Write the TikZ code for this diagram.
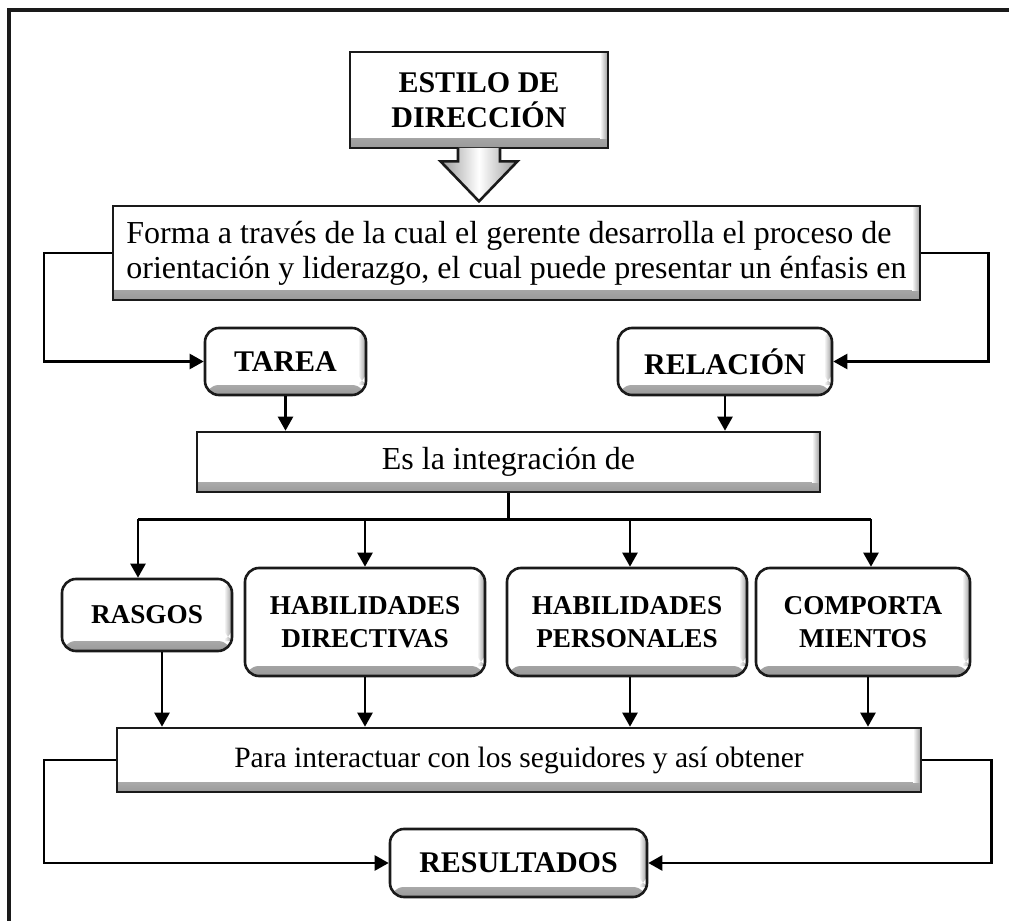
\documentclass[tikz,border=0pt]{standalone}
\usepackage{fontspec}
\setmainfont{Liberation Serif}
\usetikzlibrary{arrows.meta, calc}
\definecolor{boxEdge}{HTML}{1A1A1A}
\definecolor{boxShade}{HTML}{9A9A9A}
\newcommand{\boxfont}{\fontsize{16pt}{17.5pt}\selectfont}
\newcommand{\keyfont}{\fontsize{15pt}{17.5pt}\selectfont\bfseries}
\newcommand{\smallkeyfont}{\fontsize{13.6pt}{16.5pt}\selectfont\bfseries}

\tikzset{
    bevel/.style={draw=boxEdge, line width=1.3pt, fill=white, inner sep=0pt,
        path picture={
            \shade[top color=white, bottom color=boxShade]
                ([yshift=5pt]path picture bounding box.south west) rectangle (path picture bounding box.south east);
            \shade[left color=white, right color=boxShade]
                ([xshift=-4pt]path picture bounding box.north east) rectangle ([yshift=5pt]path picture bounding box.south east);
        }},
    textbox/.style={bevel, font=\boxfont, align=center},
    keybox/.style={bevel, rounded corners=7pt, font=\keyfont, align=center},
    link/.style={draw=black, line width=1.2pt},
    conn/.style={link, -{Triangle[length=7pt,width=7.5pt]}},
}

\begin{document}
\begin{tikzpicture}[x=0.5pt, y=-0.5pt]
    \useasboundingbox (0,0) rectangle (1009,921);
    \draw[boxEdge, line width=1.8pt] (9,921) -- (9,10) -- (1009,10);

    % title with its down arrow
    \node[textbox, font=\keyfont, minimum width=129pt, minimum height=48pt] (estilo) at (479,100) {ESTILO DE\\DIRECCIÓN};
    \shadedraw[draw=boxEdge, line width=1.3pt, left color=boxShade, right color=boxShade, middle color=white]
        ($(estilo.south)+(-10.5pt,0.7pt)$) -- ++(0,-6.7pt) -- ++(-8.75pt,0) -- ($(estilo.south)+(0,-26pt)$)
        -- ($(estilo.south)+(19.25pt,-6pt)$) -- ++(-8.75pt,0) -- ($(estilo.south)+(10.5pt,0.7pt)$);

    \node[textbox, align=left, minimum width=403.5pt, minimum height=47pt] (forma) at (516.5,253)
        {Forma a través de la cual el gerente desarrolla el proceso de\\orientación y liderazgo, el cual puede presentar un énfasis en};

    \node[keybox, minimum width=80.5pt, minimum height=33.5pt] (tarea) at (285.5,361.5) {TAREA};
    \node[keybox, minimum width=107pt, minimum height=33.5pt] (relacion) at (725,361.5) {RELACIÓN};

    \node[textbox, minimum width=311.5pt, minimum height=30pt] (integra) at (508.5,462) {Es la integración de};

    \node[keybox, font=\smallkeyfont, minimum width=85pt, minimum height=36pt] (rasgos) at (147,615) {RASGOS};
    \node[keybox, font=\smallkeyfont, minimum width=120pt, minimum height=54pt] (hdir) at (365,622) {HABILIDADES\\DIRECTIVAS};
    \node[keybox, font=\smallkeyfont, minimum width=120pt, minimum height=54pt] (hper) at (627,622) {HABILIDADES\\PERSONALES};
    \node[keybox, font=\smallkeyfont, minimum width=107pt, minimum height=54pt] (comp) at (863,622) {COMPORTA\\MIENTOS};

    \node[textbox, font=\fontsize{14.75pt}{17.5pt}\selectfont, minimum width=402pt, minimum height=32pt] (para) at (519,760)
        {Para interactuar con los seguidores y así obtener};
    \node[keybox, minimum width=128.5pt, minimum height=34pt] (result) at (518.5,863) {RESULTADOS};

    % task / relation
    \draw[conn] (forma.west) -- ++(-34pt,0) |- (tarea.west);
    \draw[conn] (forma.east) -- ++(33.5pt,0) |- (relacion.east);
    \draw[conn] (tarea.south) -- (tarea.south |- integra.north);
    \draw[conn] (relacion.south) -- (relacion.south |- integra.north);

    % branches
    \coordinate (split) at ($(integra.south)+(0,-13pt)$);
    \draw[link] (integra.south) -- (split);
    \draw[link] ($(split -| rasgos.north)+(-4.5pt,0)$) -- ($(split -| comp.north)+(4pt,0)$);
    \foreach \n/\dx in {rasgos/-4.5pt, hdir/0pt, hper/1.5pt, comp/4pt}
        \draw[conn] ($(split -| \n.north)+(\dx,0)$) -- ($(\n.north)+(\dx,0)$);
    \foreach \n/\dx in {rasgos/7.5pt, hdir/0pt, hper/1.5pt, comp/2.5pt}
        \draw[conn] ($(\n.south)+(\dx,0)$) -- ($(\n.south |- para.north)+(\dx,0)$);

    % results
    \draw[conn] (para.west) -- ++(-36pt,0) |- (result.west);
    \draw[conn] (para.east) -- ++(34.5pt,0) |- (result.east);
\end{tikzpicture}
\end{document}
